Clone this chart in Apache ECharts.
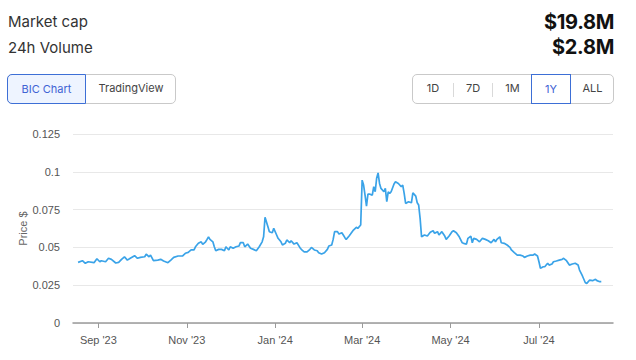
<!DOCTYPE html>
<html>
<head>
<meta charset="utf-8">
<script src="https://cdn.jsdelivr.net/npm/echarts@6/dist/echarts.min.js"></script>
<style>
  html, body { margin: 0; padding: 0; background: #fff; }
  body { width: 636px; height: 360px; position: relative; overflow: hidden; font-family: Inter, "Noto Sans", sans-serif; }
  #chart { position: absolute; left: 0; top: 0; width: 636px; height: 360px; }
  .lbl { position: absolute; font-size: 15px; color: #333; line-height: 20px; left: 8px; }
  .val { position: absolute; font-size: 20px; font-weight: 700; color: #111; line-height: 24px; right: 22px; letter-spacing: -0.3px; }
  .grp { position: absolute; top: 74px; height: 30px; box-sizing: border-box; border: 1px solid #c9c9c9; border-radius: 5px; }
  .seg { position: absolute; top: -1px; height: 30px; box-sizing: border-box; font-size: 11px; line-height: 28px; text-align: center; color: #444; }
  .sel { border: 1px solid #3d6fd6; color: #3f63d4; }
  .sep { position: absolute; top: 8px; width: 1px; height: 14px; background: #d9d9d9; }
</style>
</head>
<body>
<div id="chart"></div>
<div class="lbl" style="top:12px">Market cap</div>
<div class="lbl" style="top:38px">24h Volume</div>
<div class="val" style="top:10px">$19.8M</div>
<div class="val" style="top:35px">$2.8M</div>

<div class="grp" style="left:7px;width:169px;">
  <div class="seg sel" style="left:-1px;width:79px;background:#eef4ff;border-radius:5px 0 0 5px;">BIC Chart</div>
  <div class="seg" style="left:78px;width:90px;">TradingView</div>
</div>
<div class="grp" style="left:412px;width:202px;">
  <div class="seg" style="left:0;width:40px;">1D</div>
  <div class="sep" style="left:40px;"></div>
  <div class="seg" style="left:40px;width:40px;">7D</div>
  <div class="sep" style="left:79px;"></div>
  <div class="seg" style="left:80px;width:39px;">1M</div>
  <div class="seg sel" style="left:118px;width:40px;">1Y</div>
  <div class="seg" style="left:158px;width:43px;">ALL</div>
</div>

<script>
// ---- data ----
const dates = [
  '2023-08-18','2023-08-21','2023-08-23','2023-08-25','2023-08-29','2023-08-31','2023-09-02','2023-09-03','2023-09-06','2023-09-08',
  '2023-09-10','2023-09-13','2023-09-15','2023-09-17','2023-09-19','2023-09-21','2023-09-23','2023-09-26','2023-09-28','2023-09-30',
  '2023-10-03','2023-10-04','2023-10-06','2023-10-07','2023-10-09','2023-10-12','2023-10-14','2023-10-16','2023-10-19','2023-10-21',
  '2023-10-23','2023-10-26','2023-10-29','2023-10-31','2023-11-02','2023-11-04','2023-11-06','2023-11-07','2023-11-09','2023-11-11',
  '2023-11-12','2023-11-14','2023-11-15','2023-11-16','2023-11-17','2023-11-19','2023-11-20','2023-11-21','2023-11-23','2023-11-25',
  '2023-11-27','2023-11-28','2023-11-30','2023-12-01','2023-12-03','2023-12-05','2023-12-07','2023-12-08','2023-12-10','2023-12-11',
  '2023-12-13','2023-12-15','2023-12-17','2023-12-19','2023-12-21','2023-12-23','2023-12-24','2023-12-25','2023-12-27','2023-12-28',
  '2023-12-30','2023-12-31','2024-01-02','2024-01-03','2024-01-05','2024-01-06','2024-01-08','2024-01-09','2024-01-11','2024-01-12',
  '2024-01-14','2024-01-16','2024-01-18','2024-01-19','2024-01-21','2024-01-23','2024-01-25','2024-01-26','2024-01-28','2024-01-30',
  '2024-01-31','2024-02-02','2024-02-04','2024-02-06','2024-02-07','2024-02-09','2024-02-10','2024-02-11','2024-02-13','2024-02-14',
  '2024-02-16','2024-02-17','2024-02-18','2024-02-19','2024-02-21','2024-02-22','2024-02-24','2024-02-26','2024-02-27','2024-02-29',
  '2024-03-01','2024-03-02','2024-03-03','2024-03-04','2024-03-05','2024-03-06','2024-03-08','2024-03-09','2024-03-10','2024-03-11',
  '2024-03-12','2024-03-13','2024-03-14','2024-03-16','2024-03-17','2024-03-18','2024-03-19','2024-03-20','2024-03-21','2024-03-23',
  '2024-03-24','2024-03-26','2024-03-28','2024-03-29','2024-03-30','2024-03-31','2024-04-02','2024-04-04','2024-04-05','2024-04-07',
  '2024-04-08','2024-04-09','2024-04-10','2024-04-11','2024-04-13','2024-04-15','2024-04-17','2024-04-19','2024-04-20','2024-04-22',
  '2024-04-23','2024-04-25','2024-04-27','2024-04-28','2024-04-30','2024-05-02','2024-05-03','2024-05-05','2024-05-07','2024-05-09',
  '2024-05-10','2024-05-12','2024-05-13','2024-05-15','2024-05-16','2024-05-17','2024-05-19','2024-05-21','2024-05-23','2024-05-25',
  '2024-05-27','2024-05-29','2024-05-31','2024-06-01','2024-06-02','2024-06-04','2024-06-05','2024-06-07','2024-06-09','2024-06-11',
  '2024-06-12','2024-06-14','2024-06-16','2024-06-18','2024-06-20','2024-06-21','2024-06-23','2024-06-25','2024-06-27','2024-06-28',
  '2024-06-30','2024-07-01','2024-07-02','2024-07-04','2024-07-05','2024-07-07','2024-07-08','2024-07-10','2024-07-11','2024-07-13',
  '2024-07-15','2024-07-17','2024-07-18','2024-07-20','2024-07-22','2024-07-24','2024-07-26','2024-07-28','2024-07-29','2024-07-31',
  '2024-08-02','2024-08-03','2024-08-05','2024-08-07','2024-08-09','2024-08-10','2024-08-12','2024-08-13'
];
const prices = [
  0.0401,0.0412,0.0395,0.0405,0.0399,0.0425,0.0405,0.0412,0.0405,0.0428,
  0.0421,0.0397,0.0401,0.0421,0.0438,0.0416,0.0428,0.0445,0.0428,0.0434,
  0.0438,0.0456,0.0438,0.0449,0.0412,0.0416,0.0421,0.0410,0.0399,0.0416,
  0.0434,0.0443,0.0443,0.0461,0.0467,0.0483,0.0483,0.0504,0.0527,0.0537,
  0.0520,0.0537,0.0553,0.0570,0.0553,0.0537,0.0504,0.0478,0.0487,0.0487,
  0.0478,0.0504,0.0483,0.0504,0.0494,0.0504,0.0509,0.0531,0.0531,0.0504,
  0.0522,0.0494,0.0487,0.0478,0.0504,0.0537,0.0570,0.0699,0.0637,0.0604,
  0.0597,0.0626,0.0582,0.0560,0.0537,0.0516,0.0527,0.0549,0.0531,0.0544,
  0.0522,0.0531,0.0500,0.0487,0.0471,0.0471,0.0487,0.0500,0.0483,0.0478,
  0.0465,0.0456,0.0465,0.0487,0.0509,0.0516,0.0553,0.0604,0.0604,0.0588,
  0.0597,0.0582,0.0566,0.0553,0.0575,0.0588,0.0615,0.0633,0.0626,0.0648,
  0.0945,0.0912,0.0846,0.0773,0.0853,0.0853,0.0846,0.0901,0.0868,0.0957,
  0.0993,0.0923,0.0890,0.0868,0.0890,0.0802,0.0868,0.0857,0.0868,0.0919,
  0.0934,0.0923,0.0901,0.0912,0.0857,0.0791,0.0802,0.0795,0.0861,0.0839,
  0.0795,0.0780,0.0692,0.0570,0.0582,0.0575,0.0600,0.0610,0.0593,0.0604,
  0.0582,0.0604,0.0575,0.0553,0.0575,0.0604,0.0610,0.0597,0.0570,0.0531,
  0.0527,0.0522,0.0560,0.0575,0.0531,0.0560,0.0553,0.0537,0.0560,0.0553,
  0.0544,0.0531,0.0553,0.0537,0.0553,0.0570,0.0531,0.0527,0.0516,0.0500,
  0.0483,0.0465,0.0449,0.0449,0.0443,0.0434,0.0443,0.0449,0.0449,0.0456,
  0.0443,0.0405,0.0362,0.0372,0.0372,0.0395,0.0383,0.0390,0.0405,0.0410,
  0.0416,0.0421,0.0428,0.0412,0.0383,0.0390,0.0395,0.0383,0.0350,0.0311,
  0.0266,0.0262,0.0284,0.0280,0.0289,0.0280,0.0273,0.0273
];
const tickDates = ['2023-09-01','2023-11-01','2024-01-01','2024-03-01','2024-05-01','2024-07-01'];
const tickLabels = ["Sep '23","Nov '23","Jan '24","Mar '24","May '24","Jul '24"];
const axisStart = '2023-08-14 12:00';
const axisEnd = '2024-08-21 02:00';

// ---- build ----
const parse = d => echarts.number.parseDate(d).getTime();
const tickTimes = tickDates.map(parse);
const seriesData = dates.map((d, i) => [parse(d), prices[i]]);

const chart = echarts.init(document.getElementById('chart'), null, { renderer: 'svg' });
const axisFont = 'Liberation Sans, Arial, sans-serif';
chart.setOption({
  animation: false,
  grid: { left: 73, right: 23, top: 134, bottom: 37, containLabel: false },
  xAxis: {
    type: 'value',
    min: parse(axisStart),
    max: parse(axisEnd),
    axisLine: { show: true, lineStyle: { color: '#9a9a9a', width: 1.5 } },
    axisTick: { show: true, length: 5, lineStyle: { color: '#9a9a9a', width: 1 }, customValues: tickTimes },
    axisLabel: {
      customValues: tickTimes,
      color: '#555', fontSize: 11, fontFamily: axisFont, margin: 11,
      formatter: v => { const i = tickTimes.indexOf(v); return i >= 0 ? tickLabels[i] : ''; }
    },
    splitLine: { show: false }
  },
  yAxis: {
    type: 'value',
    min: 0, max: 0.125, interval: 0.025,
    name: 'Price $', nameLocation: 'middle', nameGap: 45, nameRotate: 90, nameMoveOverlap: false,
    nameTextStyle: { color: '#666', fontSize: 11, fontFamily: axisFont },
    axisLine: { show: false },
    axisTick: { show: false },
    axisLabel: { color: '#555', fontSize: 11, fontFamily: axisFont, margin: 13 },
    splitLine: { lineStyle: { color: '#e8e8e8', width: 1 } }
  },
  series: [{
    type: 'line',
    data: seriesData,
    showSymbol: false,
    lineStyle: { color: '#3aa3e8', width: 1.7 },
    itemStyle: { color: '#3aa3e8' }
  }]
});
</script>
</body>
</html>
